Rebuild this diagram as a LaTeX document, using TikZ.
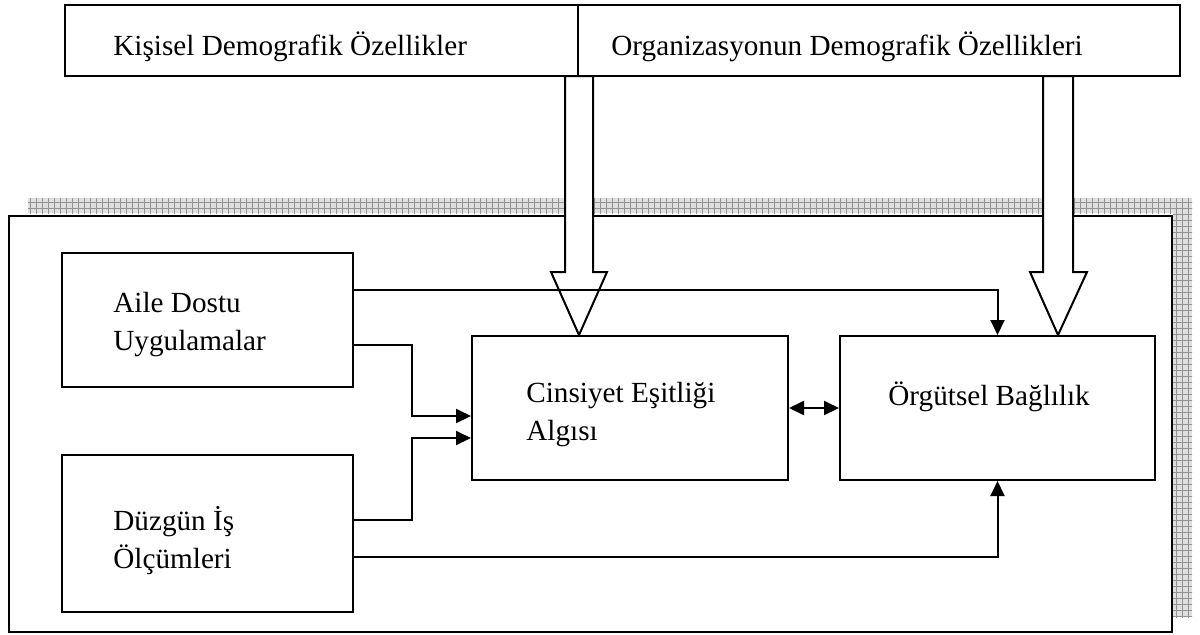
\documentclass[tikz,border=0pt]{standalone}
\usepackage{fontspec}
\setmainfont{Liberation Serif}
\usetikzlibrary{arrows.meta,patterns}
\begin{document}
\begin{tikzpicture}[x=0.5pt,y=-0.5pt,
  box/.style={draw,line width=1pt,fill=white,inner sep=0pt},
  txt/.style={anchor=base west,inner sep=0pt,font=\fontsize{14.6pt}{19pt}\selectfont},
  conn/.style={line width=1pt,-{Triangle[length=7.5pt,width=7pt]}},
  dconn/.style={line width=1pt,{Triangle[length=7.5pt,width=7pt]}-{Triangle[length=7.5pt,width=7pt]}},
  hollow/.style={draw,line width=1pt,fill=white,line join=miter},
  hatch/.style={fill=gray!25,postaction={pattern=grid,pattern color=gray!85}}
]
\useasboundingbox (0,0) rectangle (1200,634);
% shadow strips
\fill[hatch] (28,198) rectangle (1192,213);
\fill[hatch] (1173,198) rectangle (1192,617);
% outer frame
\node[box,minimum width=581.5pt,minimum height=208pt] (outer) at (590.5,424) {};
% hollow arrows
\coordinate (h1) at (579,76);
\coordinate (h2) at (1058,76);
\path[hollow] (h1) ++(-14,0) -- ++(0,196) -- ++(-14,0) -- (579,335) -- ++(28,-63) -- ++(-14,0) -- ++(0,-196) -- cycle;
\path[hollow] (h2) ++(-15,0) -- ++(0,196) -- ++(-13,0) -- (1058,335) -- ++(29,-63) -- ++(-14,0) -- ++(0,-196) -- cycle;
% top boxes
\node[box,minimum width=256.5pt,minimum height=35.5pt] (topL) at (321.5,40.5) {};
\node[box,minimum width=301pt,minimum height=35.5pt] (topR) at (879,40.5) {};
\node[txt] (tL) at (113,55) {Kişisel Demografik Özellikler};
\node[txt] (tR) at (611,55) {Organizasyonun Demografik Özellikleri};
% inner boxes
\node[box,minimum width=145.5pt,minimum height=67pt] (aile) at (207.5,320) {};
\node[box,minimum width=145.5pt,minimum height=78.5pt] (duz) at (207.5,533.5) {};
\node[box,minimum width=158pt,minimum height=72pt] (cins) at (630,408) {};
\node[box,minimum width=157.5pt,minimum height=72pt] (org) at (997.5,408) {};
\node[txt] (a1) at (113,312) {Aile Dostu};
\node[txt] (a2) at (113,350) {Uygulamalar};
\node[txt] (d1) at (113,530) {Düzgün İş};
\node[txt] (d2) at (113,568) {Ölçümleri};
\node[txt] (c1) at (526,402) {Cinsiyet Eşitliği};
\node[txt] (c2) at (526,440) {Algısı};
\node[txt] (o1) at (888,405) {Örgütsel Bağlılık};
% connectors
\draw[conn] ([yshift=15pt]aile.east) -| (org.north);
\draw[conn] ([yshift=-12.5pt]aile.east) -- (412,345) -- (412,416) -- ([yshift=-4pt]cins.west);
\draw[conn] ([yshift=6.75pt]duz.east) -- (412,520) -- (412,438) -- ([yshift=-15pt]cins.west);
\draw[conn] ([yshift=-11.75pt]duz.east) -| (org.south);
\draw[dconn] (cins.east) -- (org.west);
\end{tikzpicture}
\end{document}
